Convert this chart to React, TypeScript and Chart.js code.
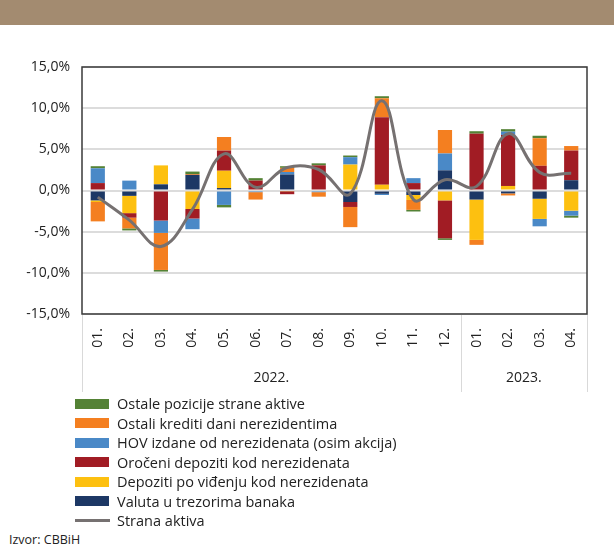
import React, { useEffect, useRef } from "react";
import { Chart, registerables } from "chart.js";

Chart.register(...registerables);

const months = ["01.", "02.", "03.", "04.", "05.", "06.", "07.", "08.", "09.", "10.", "11.", "12.", "01.", "02.", "03.", "04."];
const yearGroups = ["2022.", "2023."];
const yearCounts = [12, 4];

const valuta = [-1.2, -0.65, 0.75, 1.9, 0.3, 0, 1.95, 0, -1.4, -0.4, -0.55, 2.45, -1.1, -0.35, -1.0, 1.25];
const depozitiVidjenje = [-0.2, -2.1, 2.3, -2.25, 2.1, 0, -0.1, 0, 3.15, 0.7, -0.6, -1.2, -4.9, 0.55, -2.45, -2.45];
const oroceniDepoziti = [0.9, -0.55, -3.65, -1.15, 2.45, 1.2, -0.35, 3.05, -0.6, 8.2, 0.9, -4.6, 6.9, 6.2, 3.0, 3.6];
const hov = [1.8, 1.2, -1.5, -1.3, -1.75, -0.2, 0.3, -0.2, 0.9, -0.15, 0.6, 2.05, 0, 0.4, -0.9, -0.6];
const ostaliKrediti = [-2.35, -1.3, -4.5, 0.1, 1.65, -0.9, 0.5, -0.55, -2.45, 2.3, -1.2, 2.85, -0.6, -0.25, 3.35, 0.55];
const ostalePozicije = [0.25, -0.25, -0.2, 0.3, -0.3, 0.3, 0.2, 0.25, 0.2, 0.25, -0.2, -0.2, 0.3, 0.3, 0.3, -0.25];
const stranaAktiva = [-0.8, -3.6, -6.8, -2.3, 4.45, 0.4, 2.8, 2.55, -0.4, 10.9, -1.1, 1.3, 0.5, 6.9, 2.2, 2.1];

const barSeries = [
  { name: "Valuta u trezorima banaka", color: "#1d3865", data: valuta },
  { name: "Depoziti po viđenju kod nerezidenata", color: "#fdc010", data: depozitiVidjenje },
  { name: "Oročeni depoziti kod nerezidenata", color: "#a11c24", data: oroceniDepoziti },
  { name: "HOV izdane od nerezidenata (osim akcija)", color: "#4a89c7", data: hov },
  { name: "Ostali krediti dani nerezidentima", color: "#f47f20", data: ostaliKrediti },
  { name: "Ostale pozicije strane aktive", color: "#548235", data: ostalePozicije },
];
const lineSeries = { name: "Strana aktiva", color: "#767171", data: stranaAktiva };

const FONT = '"Open Sans", "DejaVu Sans", sans-serif';
const TEXT = "#222222";

const decorPlugin = {
  id: "decor",
  afterDraw(chart: any) {
    const { ctx, chartArea: a, scales } = chart;
    const x = scales.x;
    ctx.save();
    const half = (x.getPixelForValue(1) - x.getPixelForValue(0)) / 2;
    const bounds = [a.left];
    let idx = 0;
    yearCounts.forEach((c) => {
      idx += c;
      bounds.push(x.getPixelForValue(idx - 1) + half);
    });
    ctx.strokeStyle = "#d9d9d9";
    ctx.lineWidth = 1;
    bounds.forEach((b) => {
      ctx.beginPath();
      ctx.moveTo(Math.round(b) + 0.5, a.bottom);
      ctx.lineTo(Math.round(b) + 0.5, a.bottom + 78);
      ctx.stroke();
    });
    ctx.fillStyle = TEXT;
    ctx.font = `14px ${FONT}`;
    ctx.textAlign = "center";
    ctx.textBaseline = "middle";
    yearGroups.forEach((g, i) => {
      ctx.fillText(g, (bounds[i] + bounds[i + 1]) / 2, a.bottom + 64);
    });
    ctx.strokeStyle = "#3a3a3a";
    ctx.lineWidth = 1.5;
    ctx.strokeRect(a.left, a.top, a.right - a.left, a.bottom - a.top);
    ctx.restore();
  },
};

export default function App() {
  const ref = useRef<HTMLCanvasElement | null>(null);

  useEffect(() => {
    if (!ref.current) return;
    const datasets: any[] = barSeries.map((s) => ({
      type: "bar",
      label: s.name,
      data: s.data,
      backgroundColor: s.color,
      borderWidth: 0,
      stack: "bars",
      order: 1,
      categoryPercentage: 1,
      barPercentage: 0.45,
    }));
    datasets.push({
      type: "line",
      label: lineSeries.name,
      data: lineSeries.data,
      borderColor: lineSeries.color,
      backgroundColor: lineSeries.color,
      borderWidth: 3,
      pointRadius: 0,
      tension: 0.4,
      fill: false,
      stack: "line",
      order: 0,
    });
    const chart = new Chart(ref.current, {
      type: "bar",
      data: { labels: months, datasets },
      options: {
        animation: false,
        responsive: false,
        devicePixelRatio: 1,
        layout: { padding: { top: 42, right: 27, bottom: 0, left: 0 } },
        plugins: { legend: { display: false }, tooltip: { enabled: false } },
        scales: {
          x: {
            stacked: true,
            grid: { display: false },
            border: { display: false },
            ticks: {
              minRotation: 90,
              maxRotation: 90,
              autoSkip: false,
              padding: 6,
              color: TEXT,
              font: { family: FONT, size: 14 },
            },
            afterFit: (s: any) => {
              s.height = 83;
            },
          },
          y: {
            stacked: true,
            min: -15,
            max: 15,
            grid: { color: "#dcdcdc", lineWidth: 2, drawTicks: false },
            border: { display: false },
            ticks: {
              stepSize: 5,
              padding: 12,
              color: TEXT,
              font: { family: FONT, size: 14 },
              callback: (v: any) => Number(v).toFixed(1).replace(".", ",") + "%",
            },
            afterFit: (s: any) => {
              s.width = 82;
            },
          },
        },
      },
      plugins: [decorPlugin],
    });
    return () => chart.destroy();
  }, []);

  const legendItems = [...barSeries].reverse();

  return (
    <div style={{ position: "absolute", left: 0, top: 0, width: 614, height: 554, background: "#fff", overflow: "hidden", fontFamily: FONT, color: TEXT }}>
      <div style={{ position: "absolute", left: 0, top: 0, width: 614, height: 25, background: "#a38b70" }} />
      <canvas ref={ref} width={614} height={372} style={{ position: "absolute", left: 0, top: 25, width: 614, height: 372 }} />
      <div style={{ position: "absolute", left: 75, top: 394 }}>
        {legendItems.map((s) => (
          <div key={s.name} style={{ height: 19.5, display: "flex", alignItems: "center" }}>
            <div style={{ width: 34, height: 10, background: s.color, marginRight: 8 }} />
            <span style={{ fontSize: 14.5, lineHeight: "19.5px", whiteSpace: "nowrap" }}>{s.name}</span>
          </div>
        ))}
        <div style={{ height: 19.5, display: "flex", alignItems: "center" }}>
          <div style={{ width: 35, height: 3, background: lineSeries.color, marginRight: 7 }} />
          <span style={{ fontSize: 14.5, lineHeight: "19.5px", whiteSpace: "nowrap" }}>{lineSeries.name}</span>
        </div>
      </div>
      <div style={{ position: "absolute", left: 9, top: 532, fontSize: 12.5, lineHeight: "16px" }}>Izvor: CBBiH</div>
    </div>
  );
}
